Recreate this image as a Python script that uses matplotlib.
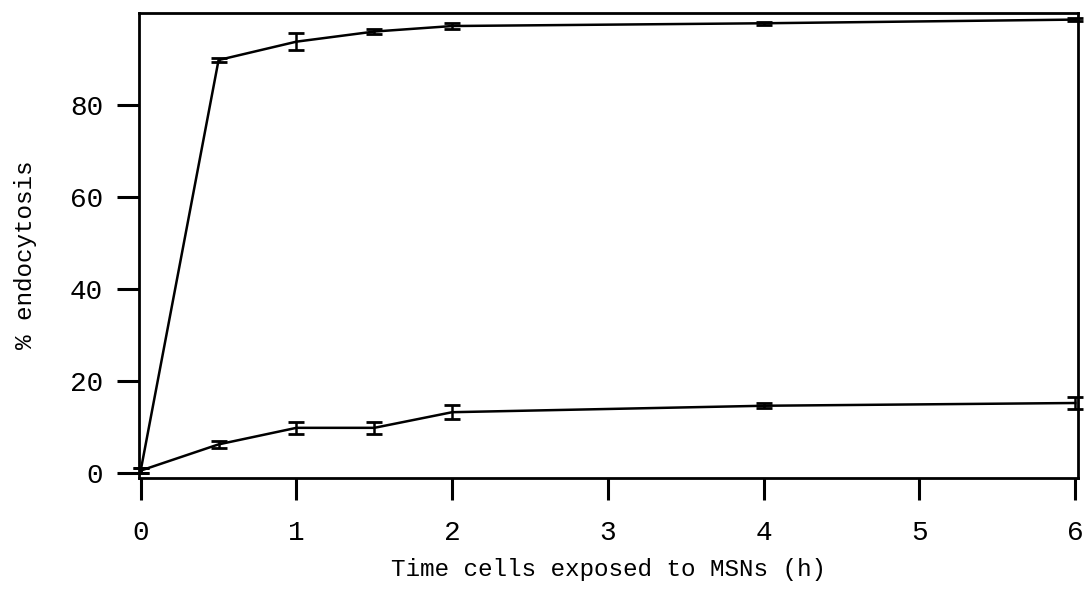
import matplotlib
matplotlib.use('Agg')
import matplotlib.pyplot as plt

# time points (h) and % endocytosis for the two series
time_h = [0, 0.5, 1, 1.5, 2, 4, 6]
upper = [0.5, 89.8, 93.8, 96.0, 97.2, 97.8, 98.6]
upper_err = [0.5, 0.4, 1.8, 0.5, 0.6, 0.3, 0.3]
lower = [0.5, 6.2, 9.8, 9.8, 13.2, 14.6, 15.2]
lower_err = [0.5, 0.8, 1.3, 1.3, 1.5, 0.5, 1.4]

plt.rcParams['font.family'] = ['Liberation Mono', 'DejaVu Sans Mono']

fig = plt.figure(figsize=(10.87, 5.98), dpi=100)
ax = fig.add_axes([0.128, 0.2, 0.864, 0.778])

for y, e in [(upper, upper_err), (lower, lower_err)]:
    ax.errorbar(time_h, y, yerr=e, color='black', lw=1.8, elinewidth=1.8,
                capsize=6, capthick=2, clip_on=False)

ax.set_xlim(-0.01, 6.02)
ax.set_ylim(-1.2, 100)
ax.set_xticks(range(7))
ax.set_yticks([0, 20, 40, 60, 80])
for s in ax.spines.values():
    s.set_linewidth(2)
ax.tick_params(direction='out', length=16, width=2.2, labelsize=20)
ax.tick_params(axis='x', pad=14)
ax.tick_params(axis='y', pad=10)

ax.set_xlabel('Time cells exposed to MSNs (h)', fontsize=17.5)
ax.xaxis.set_label_coords(0.5, -0.172)
ax.set_ylabel('% endocytosis', fontsize=17.5)
ax.yaxis.set_label_coords(-0.109, 0.48)

fig.savefig('out.png', dpi=100)
